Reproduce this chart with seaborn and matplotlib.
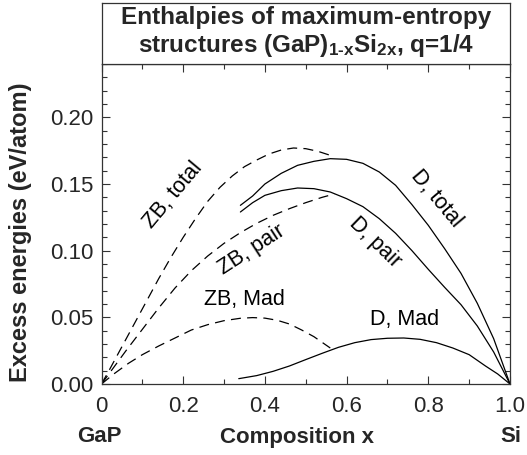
import matplotlib
matplotlib.use("Agg")
import matplotlib.pyplot as plt
from matplotlib.ticker import MultipleLocator, FixedLocator
import pandas as pd
import seaborn as sns

# Zinc-blende (ZB) curves, dashed
zb_total_x = [0, 0.02, 0.05, 0.08, 0.11, 0.14, 0.17, 0.20, 0.23, 0.26, 0.29,
              0.32, 0.35, 0.38, 0.41, 0.44, 0.47, 0.50, 0.53, 0.57]
zb_total_y = [0, 0.011, 0.028, 0.045, 0.062, 0.079, 0.095, 0.110, 0.124, 0.137,
              0.1475, 0.156, 0.163, 0.168, 0.1725, 0.1755, 0.177, 0.1765, 0.1745, 0.1705]

zb_pair_x = [0, 0.03, 0.06, 0.10, 0.14, 0.18, 0.22, 0.26, 0.30, 0.34, 0.38,
             0.42, 0.46, 0.50, 0.54, 0.57]
zb_pair_y = [0, 0.0125, 0.025, 0.041, 0.057, 0.072, 0.085, 0.096, 0.1055, 0.1135,
             0.1205, 0.1265, 0.1315, 0.136, 0.140, 0.1425]

zb_mad_x = [0, 0.03, 0.066, 0.10, 0.14, 0.18, 0.22, 0.26, 0.30, 0.34, 0.37,
            0.40, 0.43, 0.46, 0.49, 0.52, 0.56]
zb_mad_y = [0, 0.0075, 0.0155, 0.022, 0.0285, 0.0345, 0.0405, 0.0445, 0.0475,
            0.0493, 0.0498, 0.0494, 0.0478, 0.0450, 0.0405, 0.0355, 0.027]

# Diamond (D) curves, solid
d_total_x = [0.34, 0.37, 0.40, 0.44, 0.48, 0.52, 0.56, 0.60, 0.64, 0.68, 0.72,
             0.76, 0.80, 0.84, 0.88, 0.92, 0.96, 1.0]
d_total_y = [0.134, 0.141, 0.150, 0.158, 0.164, 0.167, 0.169, 0.1685, 0.1655, 0.159,
             0.149, 0.1345, 0.119, 0.1015, 0.083, 0.0605, 0.034, 0]

d_pair_x = [0.34, 0.37, 0.40, 0.44, 0.48, 0.52, 0.56, 0.60, 0.64, 0.68, 0.72,
            0.76, 0.80, 0.84, 0.88, 0.92, 0.96, 1.0]
d_pair_y = [0.129, 0.136, 0.1415, 0.145, 0.147, 0.1465, 0.144, 0.139, 0.133, 0.124,
            0.113, 0.100, 0.086, 0.0725, 0.0595, 0.0435, 0.024, 0]

d_mad_x = [0.336, 0.38, 0.42, 0.46, 0.50, 0.54, 0.58, 0.62, 0.66, 0.70, 0.74,
           0.78, 0.82, 0.86, 0.90, 0.94, 0.97, 1.0]
d_mad_y = [0.004, 0.0063, 0.0095, 0.0135, 0.0183, 0.023, 0.0275, 0.031, 0.0333,
           0.0343, 0.0345, 0.0335, 0.031, 0.027, 0.022, 0.0135, 0.0075, 0]

x_ticks = [0, 0.2, 0.4, 0.6, 0.8, 1.0]
x_tick_labels = ["0", "0.2", "0.4", "0.6", "0.8", "1.0"]
y_ticks = [0.00, 0.05, 0.10, 0.15, 0.20]
y_tick_labels = ["0.00", "0.05", "0.10", "0.15", "0.20"]

sns.set_style("ticks")
plt.rcParams.update({
    "font.family": ["Liberation Sans", "DejaVu Sans"],
    "mathtext.fontset": "custom",
    "mathtext.rm": "Liberation Sans:bold",
    "mathtext.it": "Liberation Sans:bold",
    "mathtext.bf": "Liberation Sans:bold",
    "mathtext.default": "rm",
})

W, H = 527, 455
fig = plt.figure(figsize=(W / 100, H / 100), dpi=100)

left, right, top, bottom = 101.5, 510, 64, 384
ax = fig.add_axes([left / W, 1 - bottom / H, (right - left) / W, (bottom - top) / H])

dashed = (0, (8, 5))
series = [
    ("ZB, total", zb_total_x, zb_total_y, dashed),
    ("ZB, pair", zb_pair_x, zb_pair_y, dashed),
    ("ZB, Mad", zb_mad_x, zb_mad_y, dashed),
    ("D, total", d_total_x, d_total_y, "-"),
    ("D, pair", d_pair_x, d_pair_y, "-"),
    ("D, Mad", d_mad_x, d_mad_y, "-"),
]
for name, xs, ys, ls in series:
    df = pd.DataFrame({"x": xs, "y": ys})
    sns.lineplot(data=df, x="x", y="y", ax=ax, color="black", lw=0.9,
                 linestyle=ls, sort=False, estimator=None)

ax.set_xlim(0, 1)
ax.set_ylim(0, 0.24)
ax.xaxis.set_major_locator(FixedLocator(x_ticks))
ax.set_xticklabels(x_tick_labels)
ax.xaxis.set_minor_locator(MultipleLocator(0.1))
ax.yaxis.set_major_locator(FixedLocator(y_ticks))
ax.set_yticklabels(y_tick_labels)
ax.yaxis.set_minor_locator(MultipleLocator(0.01))
ax.tick_params(which="both", direction="in", top=True, right=True,
               width=0.8, color="#333333")
ax.tick_params(which="major", length=6, labelsize=16)
ax.tick_params(which="minor", length=3.5)
ax.tick_params(axis="y", which="major", pad=6)
ax.tick_params(axis="x", which="major", pad=9)
for s in ax.spines.values():
    s.set_linewidth(0.9)
    s.set_color("#333333")
ax.set_xlabel("")
ax.set_ylabel("")

# curve labels
lab = dict(fontsize=15.5, ha="center", va="center", color="black")
ax.text(0.175, 0.142, "ZB, total", rotation=50, **lab)
ax.text(0.367, 0.101, "ZB, pair", rotation=33, **lab)
ax.text(0.351, 0.063, "ZB, Mad", **lab)
ax.text(0.819, 0.139, "D, total", rotation=-50, **lab)
ax.text(0.670, 0.106, "D, pair", rotation=-44, **lab)
ax.text(0.743, 0.048, "D, Mad", **lab)

# axis titles
fig.text(21 / W, 1 - 232 / H, "Excess energies (eV/atom)", rotation=90,
         ha="center", va="center", fontsize=17, fontweight="bold")
fig.text(99 / W, 1 - 437 / H, "GaP", ha="center", va="center",
         fontsize=16, fontweight="bold")
fig.text(297 / W, 1 - 437 / H, "Composition x", ha="center", va="center",
         fontsize=16, fontweight="bold")
fig.text(511 / W, 1 - 437 / H, "Si", ha="center", va="center",
         fontsize=16, fontweight="bold")

# boxed title above the plot
tax = fig.add_axes([left / W, 1 - top / H, (right - left) / W, (top - 3) / H])
tax.set_xticks([])
tax.set_yticks([])
for s in tax.spines.values():
    s.set_linewidth(0.9)
    s.set_color("#333333")
tax.text(0.5, 0.76, "Enthalpies of maximum-entropy", ha="center", va="center",
         fontsize=17.5, fontweight="bold", transform=tax.transAxes)
tax.text(0.5, 0.31, r"structures (GaP)$_{1\text{-}x}$Si$_{2x}$, q=1/4",
         ha="center", va="center", fontsize=17.5, fontweight="bold",
         transform=tax.transAxes)

fig.savefig("out.png", dpi=100)
